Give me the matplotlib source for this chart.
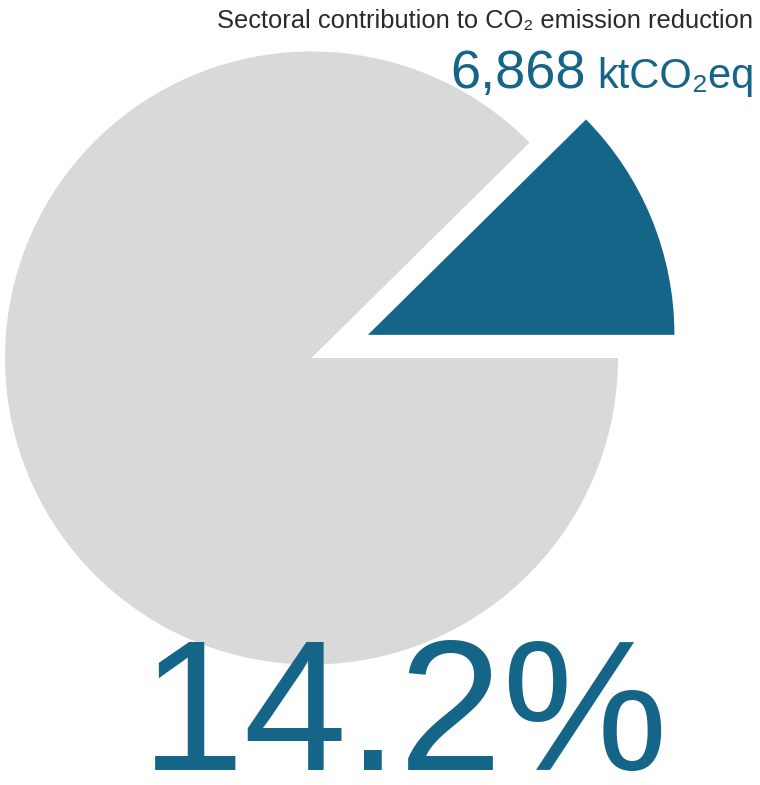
""" sectoral share pie """

import matplotlib
matplotlib.use("Agg")
import matplotlib.pyplot as plt

# data
labels = ["Sector", "Other sectors"]
shares = [12.4, 87.6]          # wedge sizes as drawn in the picture
colors = ["#156589", "#d9d9d9"]
title = "Sectoral contribution to CO\u2082 emission reduction"
amount = "6,868"
unit = "ktCO\u2082eq"
share_label = "14.2%"

plt.rcParams["font.family"] = ["Liberation Sans", "DejaVu Sans"]

W, H = 760, 785
fig = plt.figure(figsize=(W / 100, H / 100), dpi=100)
ax = fig.add_axes([0, 0, 1, 1])

# pie drawn in pixel units
ax.pie(shares, colors=colors, startangle=0, counterclock=True,
       explode=[61, 0], center=(311.5, H - 358), radius=306.5,
       wedgeprops=dict(linewidth=0), frame=True)
ax.set_xlim(0, W)
ax.set_ylim(0, H)
ax.set_aspect("equal")
ax.axis("off")

ax.text(753, H - 28, title, ha="right", va="baseline", fontsize=18.4, color="#2a2a2a")
ax.text(754, H - 88, unit, ha="right", va="baseline", fontsize=30, color=colors[0])
ax.text(586, H - 88, amount, ha="right", va="baseline", fontsize=39, color=colors[0])
ax.text(405, H - 770, share_label, ha="center", va="baseline", fontsize=134, color=colors[0])

fig.savefig("out.png", dpi=100)
